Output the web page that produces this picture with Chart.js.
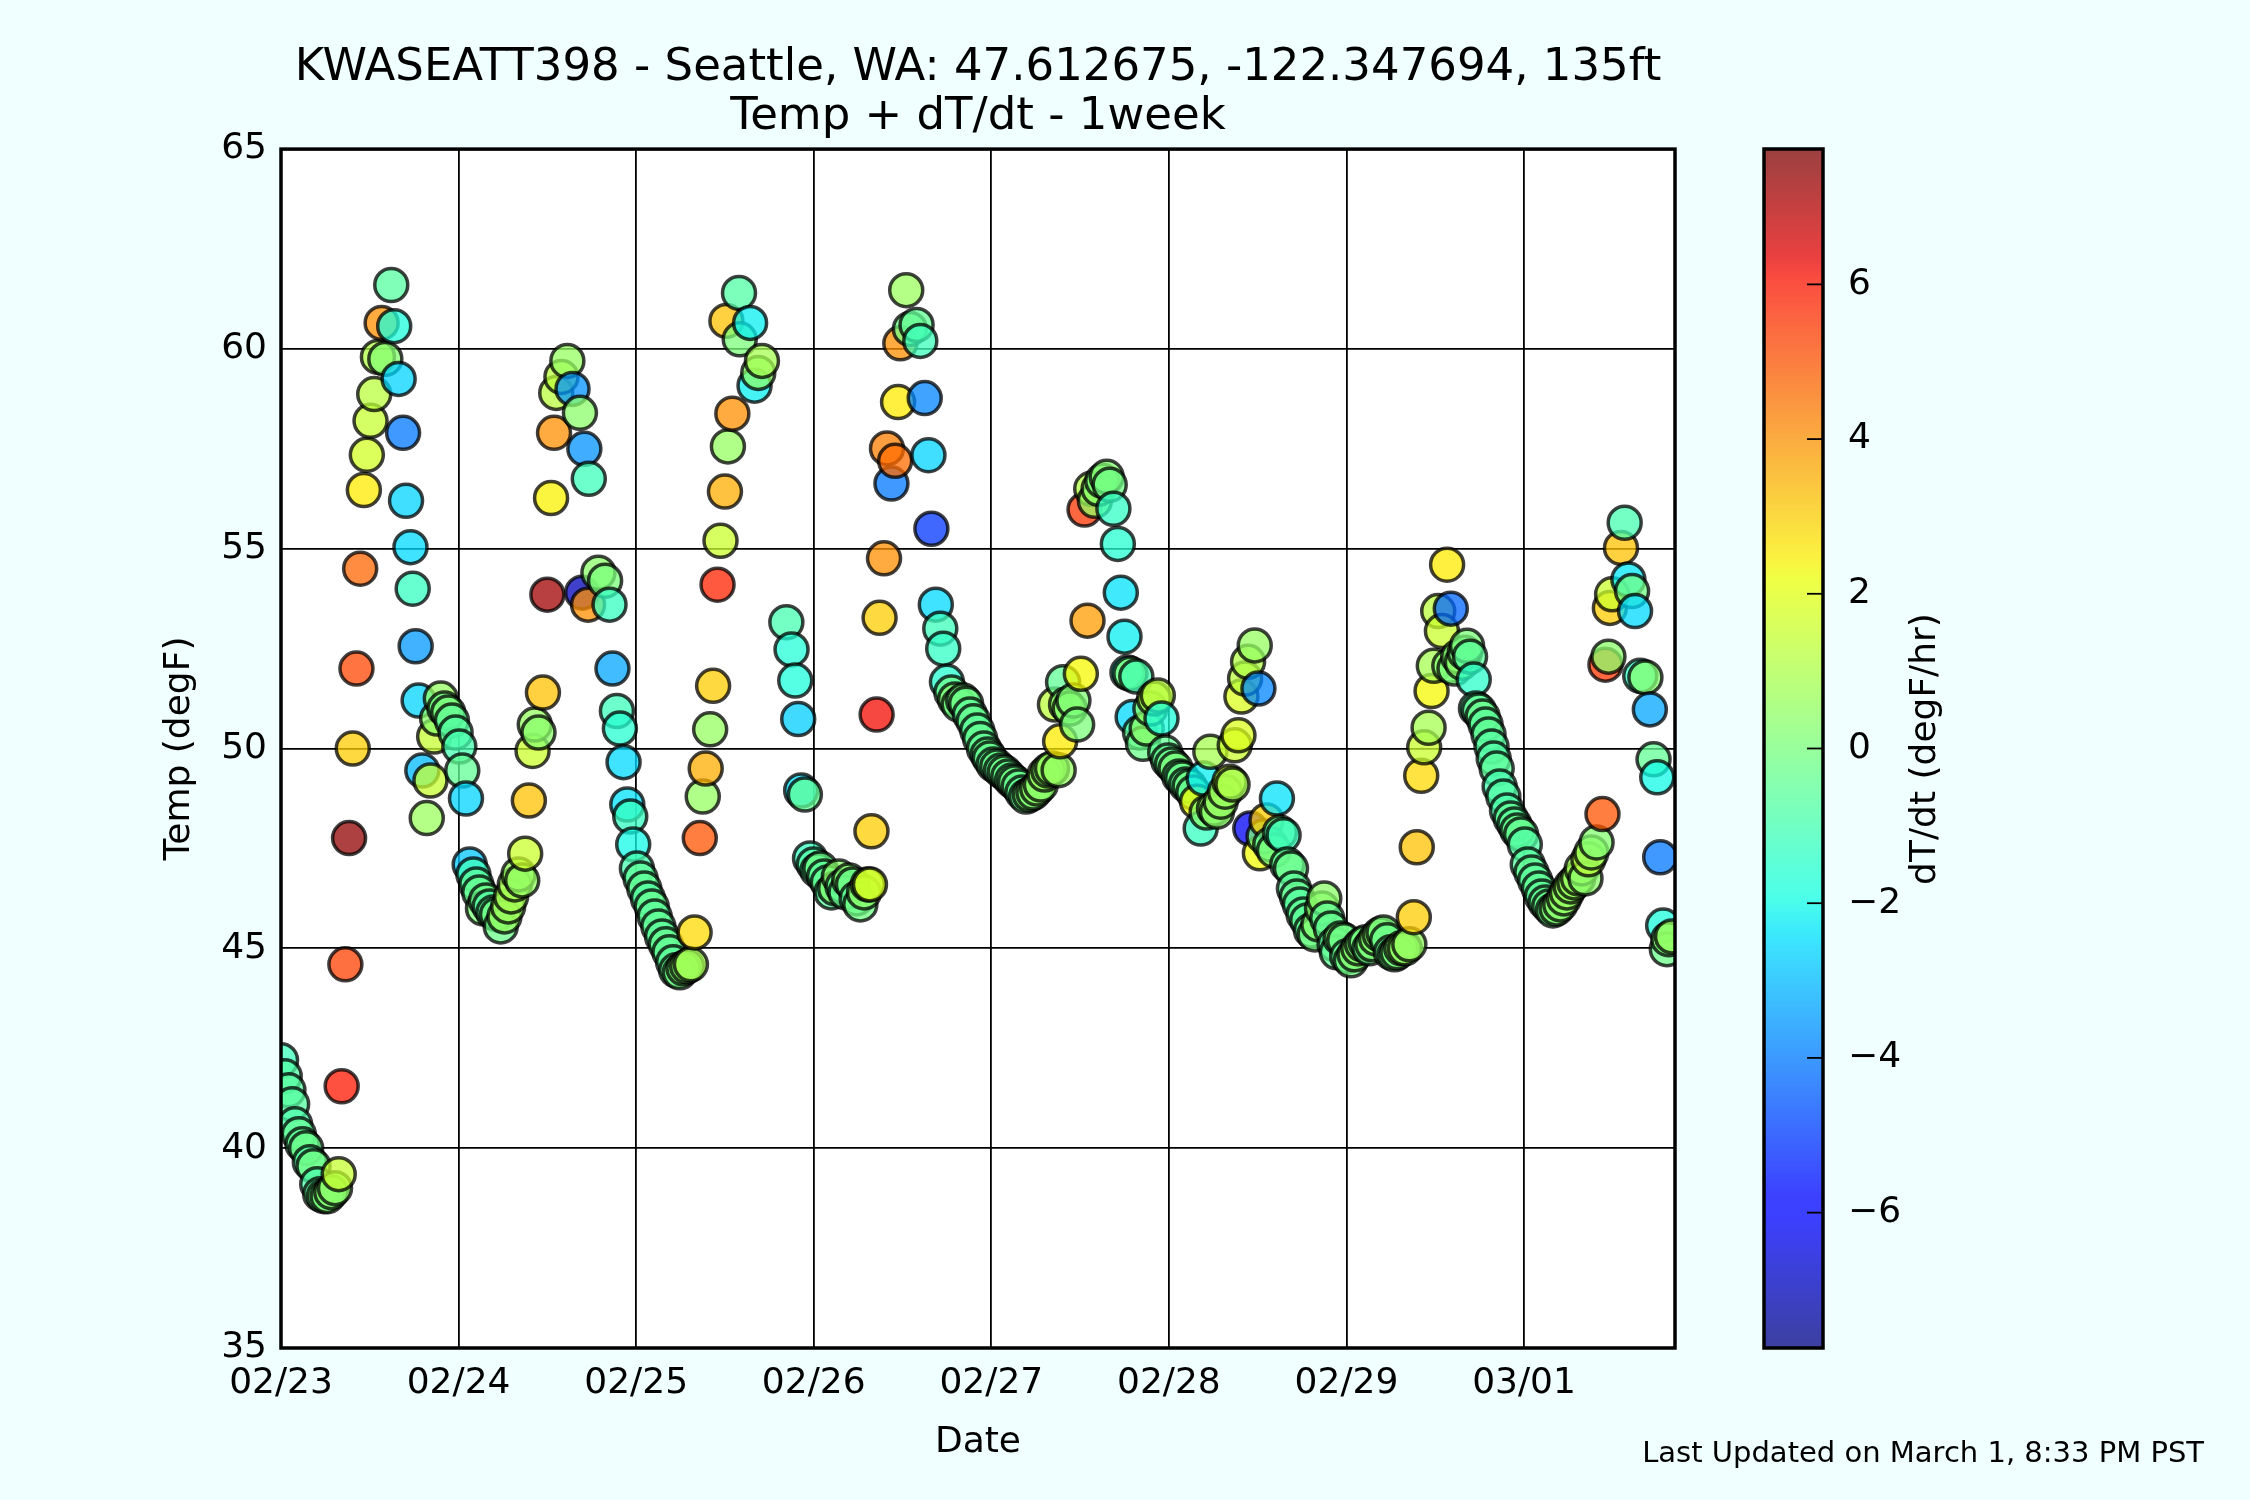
<!DOCTYPE html>
<html>
<head>
<meta charset="utf-8">
<script src="https://cdn.jsdelivr.net/npm/chart.js@4.4.1/dist/chart.umd.min.js"></script>
<style>
html,body{margin:0;padding:0;background:#f0ffff;}
#wrap{position:relative;width:2250px;height:1500px;overflow:hidden;}
#main{position:absolute;left:0;top:0;}
#cbar{position:absolute;left:1700px;top:0;}
</style>
</head>
<body>
<div id="wrap">
<canvas id="main" width="2250" height="1500"></canvas>
<canvas id="cbar" width="550" height="1500"></canvas>
</div>
<script>
// ---- DATA (hours since 02/23 00:00, temperature degF, dT/dt degF/hr) ----
const hours = [
0.0,0.5,1.0,1.5,1.9,2.4,2.9,3.4,3.9,4.4,4.9,5.3,5.8,6.3,6.8,7.3,7.8,
8.2,8.7,9.2,9.7,10.2,10.7,11.2,11.6,12.1,12.6,13.1,13.6,14.1,14.9,15.3,15.9,16.5,16.9,17.5,17.8,18.2,18.6,19.1,
19.7,20.2,20.7,21.1,21.6,22.1,22.6,23.1,23.6,24.1,24.5,25.0,25.5,26.0,26.4,26.8,27.3,27.7,28.2,28.7,29.2,29.7,30.2,30.7,31.1,31.6,32.1,32.6,
33.0,33.5,34.0,34.3,34.8,35.4,36.0,36.5,36.9,37.2,37.9,38.7,39.4,40.4,40.7,41.0,41.5,41.6,42.9,43.8,44.4,44.8,
45.4,45.8,46.3,46.8,47.2,47.6,48.1,48.6,49.1,49.6,50.1,50.5,51.0,51.5,52.0,52.5,53.0,53.4,53.9,54.4,54.9,55.4,55.9,
56.6,57.0,57.4,58.0,58.4,59.0,59.4,60.0,60.2,60.4,61.0,61.9,62.0,63.4,64.0,64.5,65.0,
68.3,69.0,69.5,69.9,70.3,70.8,71.5,72.0,72.5,72.9,73.4,73.9,74.4,74.9,75.4,75.9,76.3,76.8,77.3,77.8,78.3,78.8,79.3,79.6,
79.8,80.5,80.9,81.5,81.9,82.5,83.0,83.4,83.7,84.5,85.0,85.9,86.4,87.0,87.5,87.9,88.5,89.1,89.5,90.0,
90.6,91.1,91.6,92.2,92.6,93.1,93.6,94.1,94.5,95.0,
95.5,95.8,96.3,96.8,97.3,97.8,98.3,98.8,99.2,99.7,
100.2,100.7,101.2,101.7,102.2,102.7,103.2,103.7,104.2,104.6,
105.1,105.3,105.7,106.1,106.6,107.1,107.6,108.1,108.6,109.0,
109.5,110.0,110.5,111.0,111.6,112.0,112.5,113.1,113.5,114.0,
114.4,114.8,115.1,115.6,116.1,116.5,117.0,117.5,118.0,118.5,
119.0,119.5,119.9,120.4,120.9,121.4,121.8,122.3,122.8,123.3,
123.8,124.3,124.7,125.1,125.6,126.1,126.5,127.0,127.6,128.2,
128.6,128.9,129.4,129.8,130.3,130.7,131.0,131.6,132.1,132.3,
132.8,133.2,133.7,134.2,134.6,135.0,135.5,136.0,136.5,136.9,
137.3,137.7,138.2,138.7,139.2,139.7,140.2,140.7,141.0,141.4,
141.9,142.4,142.7,143.2,143.7,144.1,144.6,145.1,145.6,146.1,
146.6,147.1,147.5,148.0,148.5,149.0,149.5,150.0,150.5,150.9,
151.4,151.9,152.5,153.1,153.5,154.1,154.5,155.1,155.5,155.8,
156.4,156.9,157.6,157.9,158.1,158.6,159.1,159.6,160.0,160.3,
160.7,161.2,161.5,161.9,162.4,162.8,163.2,163.6,163.9,164.3,
164.7,165.2,165.7,166.2,166.7,167.1,167.6,168.1,168.5,169.0,
169.5,170.0,170.4,170.9,171.4,171.9,172.4,172.9,173.4,173.8,
174.3,174.8,175.3,175.8,176.3,176.7,177.1,177.8,178.6,179.0,
179.4,179.6,179.9,181.1,181.6,182.1,182.6,183.0,183.7,184.4,
185.0,185.5,186.0,186.4,186.8,187.3,187.5,188.0
];
const temps = [
42.2,41.8,41.45,41.1,40.6,40.35,40.1,40.0,39.65,39.55,39.1,38.85,38.8,38.8,38.9,39.0,39.35,
41.55,44.6,47.76,50.0,52.0,54.5,56.47,57.35,58.2,58.87,59.8,60.65,59.75,61.6,60.57,59.25,57.9,56.2,55.04,54.0,52.56,51.2,49.45,
48.26,49.2,50.3,50.75,51.25,51.0,50.9,50.7,50.4,50.05,49.45,48.75,47.1,46.85,46.6,46.4,46.0,46.2,46.05,45.9,45.85,45.55,45.8,46.05,46.3,46.6,46.85,46.7,
47.37,48.7,49.94,50.6,50.4,51.4,53.85,56.27,57.9,58.9,59.3,59.7,59.0,58.4,53.9,57.5,53.6,56.75,54.4,54.2,53.6,52.0,
50.94,50.5,49.66,48.6,48.3,47.6,47.0,46.75,46.5,46.25,46.05,45.8,45.55,45.3,45.1,44.9,44.65,44.45,44.4,44.5,44.55,44.6,45.4,
47.76,48.8,49.5,50.48,51.57,54.1,55.2,56.43,60.7,57.56,58.38,61.4,60.24,60.65,59.08,59.4,59.7,
53.16,52.48,51.7,50.74,48.95,48.85,47.25,47.1,46.95,47.0,46.8,46.65,46.4,46.5,46.8,46.55,46.4,46.7,46.6,46.25,46.1,46.4,46.6,46.6,
47.93,50.85,53.27,54.76,57.51,56.63,57.2,58.67,60.14,61.47,60.5,60.6,60.2,58.77,57.34,55.5,53.6,53.0,52.5,51.67,
51.4,51.23,51.1,51.2,51.12,50.85,50.68,50.45,50.24,50.0,
49.85,49.75,49.6,49.55,49.45,49.4,49.3,49.2,49.15,49.05,
48.9,48.8,48.85,48.9,49.0,49.1,49.35,49.45,49.5,51.1,
49.46,50.18,51.66,51.1,51.0,51.2,50.6,51.87,55.98,53.2,
56.5,56.2,56.5,56.7,56.8,56.6,56.0,55.12,53.9,52.8,
51.9,51.87,50.79,51.8,50.4,50.12,50.5,51.0,51.25,51.33,
50.75,49.9,49.7,49.6,49.5,49.3,49.25,49.1,49.05,48.9,
48.67,48.0,49.25,48.4,49.92,48.5,48.42,48.67,48.92,49.17,
49.1,50.08,50.33,51.3,51.75,52.17,48.0,52.58,51.5,47.38,
47.8,48.2,47.6,47.45,48.75,47.9,47.83,47.1,47.0,46.5,
46.3,46.1,45.85,45.7,45.45,45.35,45.6,46.0,46.25,45.75,
45.5,45.1,44.9,45.25,45.2,44.8,44.7,44.85,45.0,45.1,
45.15,45.0,45.1,45.25,45.35,45.4,45.2,44.9,44.85,44.9,
45.0,45.0,45.1,45.78,47.53,49.32,50.03,50.52,51.44,52.07,
53.44,52.94,54.6,52.07,53.5,52.0,52.3,52.15,52.4,52.57,
52.3,51.73,51.0,50.95,50.8,50.6,50.35,50.05,49.75,49.5,
49.05,48.8,48.45,48.25,48.1,47.95,47.85,47.6,47.1,46.9,
46.7,46.5,46.3,46.15,46.05,45.95,46.0,46.1,46.25,46.4,
46.55,46.65,46.75,47.0,46.75,47.23,47.4,47.65,48.36,52.1,
52.3,53.52,53.86,55.02,55.65,54.23,53.94,53.44,51.82,51.78,
50.98,49.73,49.28,47.28,45.57,44.98,45.23,45.3
];
const rates = [
-1.2,-0.8,-0.7,-0.7,-0.9,-0.5,-0.5,-0.3,-0.7,-0.2,-0.9,-0.5,-0.1,0.0,0.2,0.3,1.4,
6.0,5.3,7.5,3.0,5.2,4.7,2.5,1.6,1.4,1.2,1.0,4.0,0.2,-0.7,-1.8,-2.6,-4.0,-2.6,-2.5,-1.3,-3.5,-2.6,-3.0,
0.6,1.4,1.4,0.3,0.5,-0.2,0.0,-0.5,-0.7,-1.0,-0.5,-2.6,-2.8,-1.2,-0.6,-0.4,0.0,-0.3,-0.8,-0.5,-0.2,-0.3,0.5,0.6,0.8,0.8,0.5,0.5,
1.5,3.2,1.5,0.5,0.3,3.2,7.3,2.4,4.0,1.2,1.2,0.5,-3.6,0.3,-7.0,-3.6,4.0,-1.2,0.3,0.0,-1.3,-3.3,
-1.2,-1.6,-2.5,-2.4,-1.3,-2.0,-1.0,-0.6,-0.5,-0.7,-0.4,-0.6,-0.5,-0.6,-0.4,-0.5,-0.6,-0.4,-0.2,0.2,0.3,0.8,2.8,
5.0,0.5,3.5,0.5,3.0,5.8,1.5,3.5,3.2,0.5,4.0,-0.8,0.0,-2.2,-2.2,0.3,0.8,
-1.0,-1.7,-1.8,-2.7,-2.4,-0.5,-1.3,-0.8,-0.5,-0.3,-0.6,-0.5,-0.7,0.2,0.3,-0.5,-0.4,0.2,-0.3,-0.6,-0.2,0.3,0.6,1.8,
3.0,6.2,3.0,4.0,4.3,-4.0,4.6,2.5,4.0,0.6,-0.2,-0.5,-1.2,-3.8,-2.6,-5.0,-2.5,-1.2,-1.4,-1.6,
-0.3,0.2,-0.2,0.0,-0.3,-0.5,-0.4,-0.6,-0.4,-0.5,
-0.3,-0.4,-0.5,-0.3,-0.4,-0.2,-0.4,-0.3,-0.2,-0.4,
-0.5,-0.4,0.2,0.1,0.4,0.3,0.5,0.3,0.6,1.2,
0.5,2.5,-0.5,0.2,0.3,0.1,0.0,2.3,5.5,3.8,
1.0,0.5,0.3,0.0,0.2,-0.2,-1.4,-1.6,-2.4,-2.2,
-1.8,0.2,-2.5,-1.0,-0.5,-0.3,0.3,0.3,1.0,1.2,
-1.8,-0.5,-0.4,-0.3,0.0,-0.4,-0.3,-0.5,-0.2,-0.4,
2.2,-1.3,-2.2,0.2,0.8,0.4,0.3,0.5,0.6,1.5,
0.8,1.5,1.8,1.8,1.2,1.0,-6.2,0.5,-3.8,2.2,
0.0,3.0,-0.5,0.0,-2.4,-0.8,-1.2,-0.5,-0.3,-0.6,
-0.4,-0.7,-0.5,-0.6,-0.4,-0.2,0.2,0.3,0.3,-0.5,
-0.4,-0.6,-0.5,0.2,-0.3,-0.4,-0.2,0.2,0.3,0.0,
-0.2,-0.3,0.1,0.3,0.2,0.0,-0.3,-0.4,-0.2,0.0,
0.3,0.5,0.5,3.0,3.2,2.8,1.5,0.8,2.3,0.8,
1.2,1.5,2.5,0.2,-4.3,0.0,0.2,0.3,-0.2,0.0,
-0.6,-1.5,-0.8,-0.5,-0.3,-0.6,-0.5,-0.7,-0.8,-0.6,
-1.0,-0.8,-0.9,-0.5,-0.6,-0.3,-0.4,-0.8,-0.7,-0.5,
-0.6,-0.5,-0.6,-0.4,-0.3,-0.2,0.2,0.3,0.4,0.5,
0.5,0.6,0.5,0.8,0.3,1.2,0.6,0.2,5.0,5.5,
0.3,3.0,1.5,3.2,-1.0,-2.3,-0.2,-2.5,-1.4,0.2,
-3.3,-0.5,-2.0,-4.0,-1.8,-0.3,0.2,0.5
];
const dayLabels = ['02/23','02/24','02/25','02/26','02/27','02/28','02/29','03/01'];
const colorbarTicks = [-6,-4,-2,0,2,4,6];
const titleLines = ['KWASEATT398 - Seattle, WA: 47.612675, -122.347694, 135ft', 'Temp + dT/dt - 1week'];
const footnote = 'Last Updated on March 1, 8:33 PM PST';
const CMIN = -7.75, CMAX = 7.75;

// ---- jet colormap (matplotlib segment data) ----
const JET = {
  r: [[0,0],[0.35,0],[0.66,1],[0.89,1],[1,0.5]],
  g: [[0,0],[0.125,0],[0.375,1],[0.64,1],[0.91,0],[1,0]],
  b: [[0,0.5],[0.11,1],[0.34,1],[0.65,0],[1,0]]
};
function interp(pts, t) {
  for (let i = 1; i < pts.length; i++) {
    if (t <= pts[i][0]) {
      const [x0, y0] = pts[i-1], [x1, y1] = pts[i];
      return y0 + (y1 - y0) * (t - x0) / (x1 - x0);
    }
  }
  return pts[pts.length-1][1];
}
function jetColor(v, a) {
  let t = (v - CMIN) / (CMAX - CMIN);
  t = Math.max(0, Math.min(1, t));
  const r = Math.round(255 * interp(JET.r, t));
  const g = Math.round(255 * interp(JET.g, t));
  const b = Math.round(255 * interp(JET.b, t));
  return `rgba(${r},${g},${b},${a})`;
}

const FONT = "'DejaVu Sans', sans-serif";
const points = hours.map((h, i) => ({x: h, y: temps[i]}));

const bgPlugin = {
  id: 'bg',
  beforeDraw(chart) {
    const {ctx, chartArea: a} = chart;
    ctx.save();
    ctx.fillStyle = '#f0ffff';
    ctx.fillRect(0, 0, chart.width, chart.height);
    ctx.fillStyle = '#ffffff';
    ctx.fillRect(a.left, a.top, a.right - a.left, a.bottom - a.top);
    ctx.restore();
  }
};
const framePlugin = {
  id: 'frame',
  afterDraw(chart) {
    const {ctx, chartArea: a} = chart;
    ctx.save();
    ctx.strokeStyle = '#000';
    ctx.lineWidth = 3.5;
    ctx.strokeRect(a.left, a.top, a.right - a.left, a.bottom - a.top);
    ctx.fillStyle = '#000';
    ctx.font = '29px ' + FONT;
    ctx.textAlign = 'right';
    ctx.textBaseline = 'middle';
    ctx.fillText(footnote, 2204, 1454);
    ctx.restore();
  }
};

new Chart(document.getElementById('main'), {
  type: 'scatter',
  data: {
    datasets: [{
      data: points,
      pointStyle: 'circle',
      pointRadius: 16.5,
      pointHoverRadius: 16.5,
      pointBorderWidth: 3.5,
      pointHoverBorderWidth: 3.5,
      pointBackgroundColor: c => jetColor(rates[c.dataIndex], 0.75),
      pointBorderColor: 'rgba(0,0,0,0.75)',
      clip: 0
    }]
  },
  options: {
    responsive: false,
    animation: false,
    events: [],
    layout: {padding: {left: 0, right: 575, top: 0, bottom: 0}},
    plugins: {
      legend: {display: false},
      tooltip: {enabled: false},
      title: {
        display: true, fullSize: false, text: titleLines, color: '#000',
        font: {family: FONT, size: 45, weight: 'normal', lineHeight: 1.09},
        padding: {top: 44, bottom: 7}
      }
    },
    scales: {
      x: {
        type: 'linear', min: 0, max: 188.4, z: 1,
        afterFit: s => { s.height = 152; },
        afterBuildTicks: s => { s.ticks = dayLabels.map((l, i) => ({value: i * 24})); },
        ticks: {
          callback: v => dayLabels[Math.round(v / 24)],
          color: '#000', font: {family: FONT, size: 36}, padding: 14,
          maxRotation: 0, autoSkip: false
        },
        grid: {color: '#000', lineWidth: 1.8, drawTicks: false},
        border: {display: false},
        title: {display: true, text: 'Date', color: '#000', font: {family: FONT, size: 36}, padding: {top: 0, bottom: 36}}
      },
      y: {
        min: 35, max: 65, z: 1,
        afterFit: s => { s.width = 281; },
        ticks: {stepSize: 5, color: '#000', font: {family: FONT, size: 36}, padding: 14},
        grid: {color: '#000', lineWidth: 1.8, drawTicks: false},
        border: {display: false},
        title: {display: true, text: 'Temp (degF)', color: '#000', font: {family: FONT, size: 36}, padding: {top: 158, bottom: 0}}
      }
    }
  },
  plugins: [bgPlugin, framePlugin]
});

// ---- colorbar chart ----
const colorbarPlugin = {
  id: 'colorbar',
  beforeDatasetsDraw(chart) {
    const {ctx, chartArea: a, scales: {y}} = chart;
    ctx.save();
    for (let py = Math.floor(a.top); py < a.bottom; py++) {
      const v = y.getValueForPixel(py + 0.5);
      ctx.fillStyle = jetColor(v, 0.75);
      ctx.fillRect(a.left, py, a.right - a.left, 1);
    }
    ctx.strokeStyle = '#000';
    ctx.lineWidth = 1.8;
    y.ticks.forEach(t => {
      const py = y.getPixelForValue(t.value);
      ctx.beginPath();
      ctx.moveTo(a.right - 16, py);
      ctx.lineTo(a.right, py);
      ctx.stroke();
    });
    ctx.lineWidth = 3.5;
    ctx.strokeRect(a.left, a.top, a.right - a.left, a.bottom - a.top);
    ctx.fillStyle = '#000';
    ctx.font = '36px ' + FONT;
    ctx.textAlign = 'center';
    ctx.textBaseline = 'middle';
    ctx.translate(1926 - 1700, 749);
    ctx.rotate(-Math.PI / 2);
    ctx.fillText('dT/dt (degF/hr)', 0, 0);
    ctx.restore();
  }
};

new Chart(document.getElementById('cbar'), {
  type: 'scatter',
  data: {datasets: [{data: []}]},
  options: {
    responsive: false,
    animation: false,
    events: [],
    layout: {padding: {left: 64, right: 0, top: 149, bottom: 152}},
    plugins: {legend: {display: false}, tooltip: {enabled: false}},
    scales: {
      x: {display: false, min: 0, max: 1},
      y: {
        position: 'right', min: CMIN, max: CMAX,
        afterFit: s => { s.width = 550 - 64 - 59; },
        afterBuildTicks: s => { s.ticks = colorbarTicks.map(v => ({value: v})); },
        ticks: {
          callback: v => String(v).replace('-', '\u2212'),
          color: '#000', font: {family: FONT, size: 36}, padding: 17
        },
        grid: {display: false},
        border: {display: false}
      }
    }
  },
  plugins: [colorbarPlugin]
});
</script>
</body>
</html>
